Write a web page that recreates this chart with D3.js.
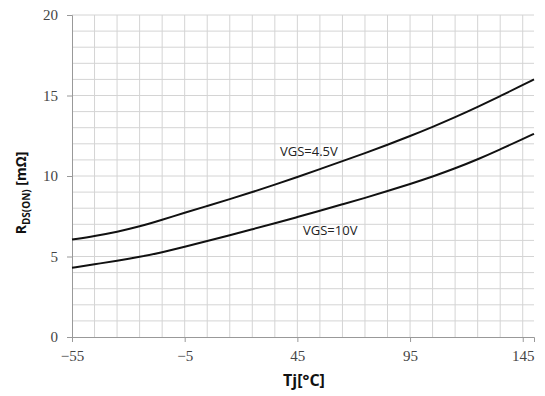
<!DOCTYPE html>
<meta charset="utf-8">
<style>
body { margin: 0; background: #fff; }
.tick text { font-family: "Liberation Serif", "DejaVu Serif", serif; font-size: 15px; fill: #444; }
.lbl { font-family: "Open Sans", "Noto Sans", sans-serif; font-size: 13px; fill: #222; }
.axtitle { font-family: "Open Sans", "Noto Sans", sans-serif; font-weight: bold; fill: #111; }
</style>
<svg width="545" height="396"></svg>
<script src="https://cdn.jsdelivr.net/npm/d3@7"></script>
<script>
// junction temperature [°C]
var temps = [-55, -45, -35, -25, -15, -5, 5, 15, 25, 35, 45, 55, 65, 75, 85, 95, 105, 115, 125, 135, 145, 150]
// RDS(ON) [mΩ]
var vgs45 = [6.05, 6.27, 6.53, 6.86, 7.28, 7.72, 8.14, 8.56, 9.0, 9.46, 9.94, 10.43, 10.92, 11.42, 11.94, 12.48, 13.05, 13.65, 14.29, 14.96, 15.65, 16.0]
var vgs10 = [4.3, 4.52, 4.73, 4.97, 5.26, 5.6, 5.96, 6.32, 6.69, 7.06, 7.45, 7.84, 8.24, 8.64, 9.06, 9.5, 9.96, 10.47, 11.03, 11.65, 12.3, 12.62]
var xTicks = [-55, -5, 45, 95, 145]
var yTicks = [0, 5, 10, 15, 20]

const svg = d3.select('svg')
const mLeft = 72, mRight = 534, mTop = 15, mBottom = 337

const x = d3.scaleLinear().domain([-55, 150]).range([mLeft, mRight])
const y = d3.scaleLinear().domain([0, 20]).range([mBottom, mTop])

// grid: every 10 °C, every 1 mΩ
const grid = svg.append('g')
grid.selectAll('line.v')
	.data(d3.range(-45, 150, 10))
	.enter().append('line')
	.attr('x1', d => x(d)).attr('x2', d => x(d))
	.attr('y1', mTop).attr('y2', mBottom)
	.attr('stroke', '#d4d4d4').attr('stroke-width', 1)
grid.selectAll('line.h')
	.data(d3.range(1, 21, 1))
	.enter().append('line')
	.attr('x1', mLeft).attr('x2', mRight)
	.attr('y1', d => y(d)).attr('y2', d => y(d))
	.attr('stroke', '#d4d4d4').attr('stroke-width', 1)

const xAxis = svg.append('g')
	.attr('transform', `translate(0,${mBottom})`)
	.call(d3.axisBottom(x).tickValues(xTicks).tickSize(5).tickPadding(8)
		.tickFormat(d => d < 0 ? '\u2212' + Math.abs(d) : d))
const yAxis = svg.append('g')
	.attr('transform', `translate(${mLeft},0)`)
	.call(d3.axisLeft(y).tickValues(yTicks).tickSize(5).tickPadding(9))

svg.selectAll('.domain').attr('stroke', '#999')
svg.selectAll('.tick line').attr('stroke', '#999')

const line = d3.line()
	.x((d, i) => x(temps[i]))
	.y(d => y(d))
	.curve(d3.curveBasis)

svg.append('g').selectAll('path')
	.data([vgs45, vgs10])
	.enter().append('path')
	.attr('d', line)
	.attr('fill', 'none')
	.attr('stroke', '#111')
	.attr('stroke-width', 2)

svg.append('text').attr('class', 'lbl').attr('x', 280).attr('y', 156).text('VGS=4.5V')
svg.append('text').attr('class', 'lbl').attr('x', 303).attr('y', 235).text('VGS=10V')

svg.append('text').attr('class', 'axtitle')
	.attr('x', 304).attr('y', 386)
	.attr('text-anchor', 'middle').attr('font-size', 16)
	.text('Tj[°C]')

const yt = svg.append('text').attr('class', 'axtitle')
	.attr('transform', 'translate(26,193) rotate(-90)')
	.attr('text-anchor', 'middle').attr('font-size', 14)
yt.append('tspan').text('R')
yt.append('tspan').attr('font-size', 10).attr('dy', 4).text('DS(ON)')
yt.append('tspan').attr('dy', -4).text(' [mΩ]')
</script>
